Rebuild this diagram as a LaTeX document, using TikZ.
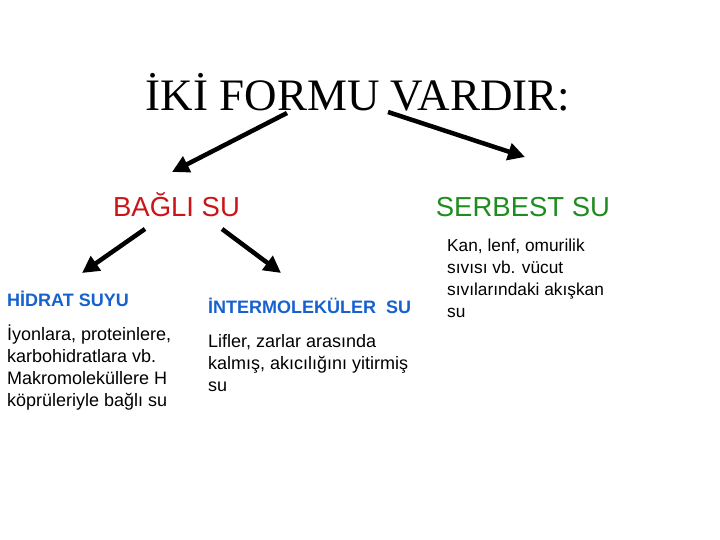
\documentclass[tikz,border=0pt]{standalone}
\usepackage{fontspec}
\setmainfont{Liberation Serif}
\newfontfamily\arialfont{Liberation Sans}
\usetikzlibrary{arrows.meta}

\definecolor{bagred}{RGB}{204,20,24}
\definecolor{freegreen}{RGB}{30,140,30}
\definecolor{headblue}{RGB}{22,96,208}

\tikzstyle{titletext} = [inner sep=0pt, anchor=base, font=\fontsize{45}{50}\selectfont]
\tikzstyle{kind} = [inner sep=0pt, anchor=base, font=\arialfont\fontsize{27.5}{32}\selectfont]
\tikzstyle{heading} = [inner sep=0pt, anchor=base west, text=headblue, font=\arialfont\bfseries\fontsize{18}{22}\selectfont]
\tikzstyle{body} = [inner sep=0pt, anchor=base west, align=left, font=\arialfont\fontsize{18}{22}\selectfont]
\tikzstyle{arrow} = [line width=4.5pt, -{Triangle[length=17pt,width=17pt]}]

\begin{document}
\begin{tikzpicture}[x=1pt, y=-1pt]
\useasboundingbox (0,0) rectangle (720,540);

% Define nodes (body texts sit on the baseline of their last line)
\node (title) [titletext] at (358,111) {İKİ FORMU VARDIR:};
\node (bagli) [kind, text=bagred] at (176.5,216) {BAĞLI SU};
\node (serbest) [kind, text=freegreen] at (523,217) {SERBEST SU};
\node (hidrat) [heading] at (7,306) {HİDRAT SUYU};
\node (inter) [heading] at (208,313) {İNTERMOLEKÜLER\ \ SU};
\node (hidratdesc) [body] at (7,406) {İyonlara, proteinlere,\\karbohidratlara vb.\\Makromoleküllere H\\köprüleriyle bağlı su};
\node (interdesc) [body] at (208,391) {Lifler, zarlar arasında\\kalmış, akıcılığını yitirmiş\\su};
\node (serbestdesc) [body, font=\arialfont\fontsize{17.3}{22}\selectfont] at (447,317) {Kan, lenf, omurilik\\sıvısı vb. vücut\\sıvılarındaki akışkan\\su};

% Draw arrows
\draw [arrow] ([xshift=-71pt,yshift=-2pt]title.base) -- ([xshift=-4.5pt,yshift=44pt]bagli.base);
\draw [arrow] ([xshift=30pt,yshift=-1pt]title.base) -- ([xshift=2pt,yshift=60pt]serbest.base);
\draw [arrow] ([xshift=-31.5pt,yshift=-13pt]bagli.base) -- ([xshift=75pt,yshift=33pt]hidrat.base west);
\draw [arrow] ([xshift=45.5pt,yshift=-13pt]bagli.base) -- ([xshift=73pt,yshift=40pt]inter.base west);

\end{tikzpicture}
\end{document}
